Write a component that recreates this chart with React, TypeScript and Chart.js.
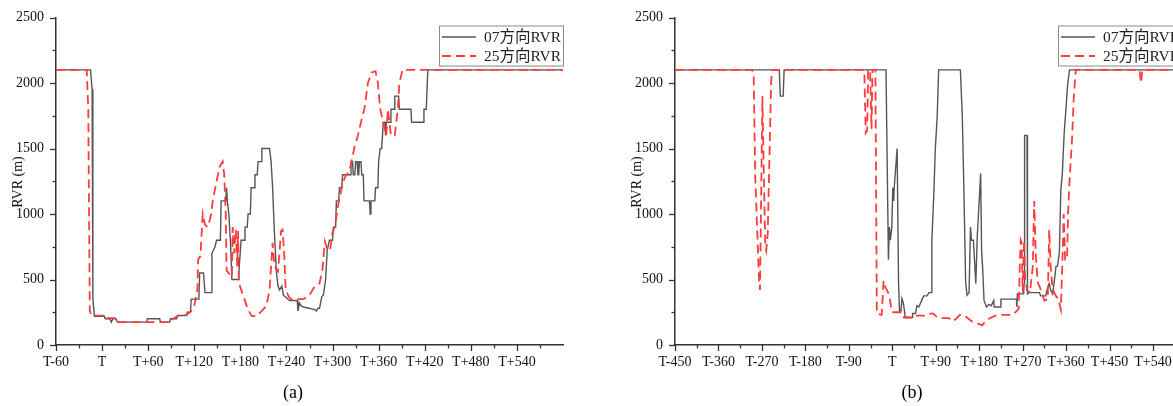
import React, { useEffect, useRef } from 'react';
import { Chart, registerables } from 'chart.js';

Chart.register(...registerables);

const seriesNames = ['07方向RVR', '25方向RVR'];
const captionA = '(a)';
const captionB = '(b)';
const yTitle = 'RVR (m)';

// panel (a): [minutes relative to T, RVR in m]
const a07: [number, number][] = [
  [-60, 2100], [-15, 2100], [-13, 1950], [-12, 350], [-10, 220], [3, 220], [4, 200], [10, 200], [12, 175], [14, 200],
  [18, 200], [20, 175], [58, 175], [59, 200], [75, 200], [76, 175], [88, 175], [89, 200], [97, 200], [98, 225],
  [110, 225], [111, 250], [115, 250], [116, 350], [126, 350], [127, 550], [132, 550], [134, 400], [142, 400], [143, 700],
  [147, 750], [149, 800], [154, 800], [155, 1100], [161, 1100], [162, 1200], [163, 1100], [165, 1000], [167, 800], [169, 500],
  [177, 500], [178, 550], [181, 800], [185, 800], [186, 900], [189, 900], [190, 1000], [193, 1000], [194, 1200], [198, 1200],
  [199, 1300], [202, 1300], [203, 1400], [207, 1400], [208, 1500], [218, 1500], [220, 1400], [222, 1200], [224, 900], [227, 550],
  [229, 450], [231, 420], [234, 450], [236, 380], [240, 360], [244, 340], [254, 340], [255, 260], [257, 320], [259, 300],
  [262, 290], [277, 270], [279, 260], [281, 280], [283, 280], [286, 370], [288, 380], [291, 500], [293, 720], [296, 800],
  [300, 800], [301, 900], [304, 900], [305, 1100], [308, 1100], [309, 1200], [312, 1200], [313, 1300], [323, 1300], [324, 1400],
  [326, 1400], [327, 1300], [329, 1300], [330, 1400], [332, 1400], [333, 1300], [334, 1300], [335, 1400], [337, 1400], [338, 1300],
  [340, 1300], [341, 1100], [348, 1100], [349, 1000], [350, 1100], [355, 1100], [356, 1200], [359, 1200], [360, 1400], [362, 1500],
  [364, 1500], [366, 1700], [368, 1700], [369, 1600], [370, 1700], [375, 1700], [376, 1800], [380, 1800], [381, 1900], [386, 1900],
  [387, 1800], [402, 1800], [403, 1700], [418, 1700], [419, 1800], [422, 1800], [424, 2100], [600, 2100],
];

const a25: [number, number][] = [
  [-60, 2100], [-20, 2100], [-18, 1800], [-16, 260], [-14, 225], [2, 225], [3, 205], [19, 205], [20, 175], [90, 175],
  [92, 200], [100, 225], [110, 230], [116, 260], [120, 300], [124, 420], [125, 650], [128, 680], [131, 1000], [134, 920],
  [137, 900], [140, 950], [142, 1000], [144, 1100], [149, 1250], [153, 1360], [157, 1400], [159, 1300], [161, 1000], [162, 570],
  [166, 540], [169, 520], [170, 900], [172, 700], [174, 880], [176, 600], [177, 870], [178, 480], [180, 440], [190, 270],
  [195, 220], [201, 220], [208, 260], [214, 300], [218, 420], [222, 780], [224, 620], [227, 570], [229, 560], [233, 870],
  [235, 880], [237, 700], [239, 420], [243, 370], [246, 350], [262, 350], [270, 380], [276, 440], [283, 470], [287, 580],
  [290, 790], [294, 720], [297, 730], [300, 860], [303, 900], [307, 1060], [312, 1200], [316, 1280], [322, 1330], [329, 1520],
  [333, 1600], [337, 1700], [342, 1820], [346, 2000], [351, 2080], [356, 2090], [359, 2000], [362, 1800], [364, 1750], [368, 1650],
  [370, 1600], [372, 1800], [374, 1700], [376, 1600], [381, 1600], [385, 1800], [387, 2000], [391, 2100], [600, 2100],
];

// panel (b)
const b07: [number, number][] = [
  [-450, 2100], [-234, 2100], [-232, 1900], [-226, 1900], [-224, 2100], [-13, 2100], [-8, 650], [-6, 900], [-4, 800], [-1, 900],
  [1, 1200], [3, 1100], [4, 1200], [10, 1500], [13, 470], [15, 260], [18, 260], [20, 356], [23, 320], [27, 210],
  [41, 210], [42, 240], [48, 240], [51, 300], [55, 290], [62, 350], [65, 375], [72, 375], [76, 400], [81, 400],
  [82, 800], [86, 1150], [89, 1490], [93, 1745], [96, 2100], [141, 2100], [145, 1750], [148, 1235], [152, 470], [155, 380],
  [159, 400], [162, 900], [164, 800], [168, 800], [173, 470], [176, 830], [180, 1100], [183, 1310], [185, 720], [187, 600],
  [190, 340], [195, 290], [200, 310], [205, 300], [210, 340], [211, 290], [224, 290], [225, 350], [257, 350], [258, 290],
  [259, 390], [272, 390], [273, 470], [274, 1600], [279, 1600], [280, 390], [283, 400], [305, 400], [307, 375], [318, 375],
  [321, 430], [325, 470], [328, 420], [332, 390], [335, 470], [339, 600], [342, 600], [346, 700], [349, 1180], [352, 1300],
  [356, 1620], [360, 1820], [363, 1980], [367, 2100], [600, 2100],
];

const b25: [number, number][] = [
  [-450, 2100], [-290, 2100], [-287, 2050], [-284, 1300], [-276, 500], [-274, 420], [-272, 1000], [-269, 1900], [-266, 1300], [-263, 750],
  [-261, 720], [-258, 850], [-254, 1500], [-251, 2000], [-249, 2100], [-58, 2100], [-55, 1620], [-52, 1640], [-50, 2100], [-46, 2100],
  [-43, 1650], [-41, 2100], [-35, 2100], [-32, 240], [-22, 230], [-18, 490], [-14, 440], [-10, 410], [-6, 380], [-3, 300],
  [0, 250], [20, 250], [24, 210], [44, 210], [48, 225], [68, 225], [74, 240], [85, 240], [92, 215], [100, 205],
  [117, 205], [125, 180], [132, 200], [140, 230], [148, 230], [158, 200], [165, 180], [172, 170], [180, 160], [186, 150],
  [195, 190], [205, 210], [218, 230], [235, 230], [249, 230], [258, 260], [262, 280], [264, 600], [266, 800], [268, 780],
  [270, 400], [273, 800], [275, 520], [279, 420], [285, 400], [291, 600], [294, 1100], [297, 700], [301, 480], [308, 420],
  [315, 340], [322, 350], [325, 880], [328, 600], [332, 430], [338, 380], [344, 350], [349, 270], [352, 600], [355, 1000],
  [358, 650], [362, 650], [364, 1000], [367, 1250], [372, 1550], [376, 1900], [380, 2100], [512, 2100], [515, 2000], [518, 2100],
  [600, 2100],
];

const yTickValues = [0, 250, 500, 750, 1000, 1250, 1500, 1750, 2000, 2250, 2500];
const yLabelValues = [0, 500, 1000, 1500, 2000, 2500];

const SERIF = "'Liberation Serif', 'Noto Sans CJK SC', serif";
const LEGEND_FONT = "15.5px 'Liberation Serif', 'Noto Sans CJK SC', serif";
const YTITLE_FONT = "14px 'Liberation Serif', 'Noto Sans CJK SC', serif";
const CAPTION_FONT = "18px 'Liberation Serif', serif";

const tickMarks = {
  id: 'tickMarks',
  afterDraw(chart: any) {
    const ctx = chart.ctx;
    ctx.save();
    ctx.strokeStyle = '#333';
    ctx.lineWidth = 1.3;
    const xs = chart.scales.x;
    xs.ticks.forEach((t: any) => {
      const px = Math.round(xs.getPixelForValue(t.value)) + 0.5;
      const len = t.label !== '' ? 6 : 3.5;
      ctx.beginPath();
      ctx.moveTo(px, xs.top);
      ctx.lineTo(px, xs.top + len);
      ctx.stroke();
    });
    const ys = chart.scales.y;
    ys.ticks.forEach((t: any) => {
      const py = Math.round(ys.getPixelForValue(t.value)) + 0.5;
      const len = t.label !== '' ? 6 : 3.5;
      ctx.beginPath();
      ctx.moveTo(ys.right - len, py);
      ctx.lineTo(ys.right, py);
      ctx.stroke();
    });
    ctx.restore();
  },
};

// draws the y-axis title and the panel caption
const panelTexts = {
  id: 'panelTexts',
  afterDraw(chart: any, _args: any, opts: any) {
    const ctx = chart.ctx;
    ctx.save();
    ctx.fillStyle = '#111';
    ctx.font = YTITLE_FONT;
    ctx.textAlign = 'center';
    ctx.textBaseline = 'middle';
    ctx.translate(18, 182);
    ctx.rotate(-Math.PI / 2);
    ctx.fillText(opts.yTitle, 0, 0);
    ctx.restore();
    ctx.save();
    ctx.fillStyle = '#000';
    ctx.font = CAPTION_FONT;
    ctx.textAlign = 'center';
    ctx.textBaseline = 'middle';
    ctx.fillText(opts.caption, chart.width / 2, 393);
    ctx.restore();
  },
};

const boxLegend = {
  id: 'boxLegend',
  afterDatasetsDraw(chart: any) {
    const { ctx, chartArea } = chart;
    const w = 124;
    const h = 40;
    const x = chartArea.right - w;
    const y = chartArea.top + 8;
    ctx.save();
    ctx.fillStyle = '#fff';
    ctx.fillRect(x, y, w, h);
    ctx.strokeStyle = '#8a8a8a';
    ctx.lineWidth = 1;
    ctx.strokeRect(x + 0.5, y + 0.5, w, h);
    chart.data.datasets.forEach((ds: any, i: number) => {
      const cy = y + 11.5 + i * 19;
      ctx.strokeStyle = ds.borderColor;
      ctx.lineWidth = ds.borderWidth;
      ctx.setLineDash(ds.borderDash || []);
      ctx.beginPath();
      ctx.moveTo(x + 3, cy);
      ctx.lineTo(x + 37, cy);
      ctx.stroke();
      ctx.setLineDash([]);
      ctx.fillStyle = '#222';
      ctx.font = LEGEND_FONT;
      ctx.textBaseline = 'middle';
      ctx.textAlign = 'left';
      ctx.fillText(ds.label, x + 45, cy + 1);
    });
    ctx.restore();
  },
};

function fmtT(v: number) {
  if (v === 0) return 'T';
  return v < 0 ? 'T' + v : 'T+' + v;
}

type PanelProps = {
  s07: [number, number][];
  s25: [number, number][];
  xMin: number;
  xMax: number;
  minorStep: number;
  labelStep: number;
  caption: string;
};

function Panel({ s07, s25, xMin, xMax, minorStep, labelStep, caption }: PanelProps) {
  const ref = useRef<HTMLCanvasElement | null>(null);
  useEffect(() => {
    if (!ref.current) return;
    const chart = new Chart(ref.current, {
      type: 'line',
      data: {
        datasets: [
          {
            label: seriesNames[0],
            data: s07.map(([x, y]) => ({ x, y })),
            borderColor: '#555555',
            borderWidth: 1.4,
            pointRadius: 0,
            tension: 0,
            order: 1,
          },
          {
            label: seriesNames[1],
            data: s25.map(([x, y]) => ({ x, y })),
            borderColor: '#ff3b3b',
            borderWidth: 1.8,
            borderDash: [9, 5],
            pointRadius: 0,
            tension: 0,
            order: 0,
          },
        ],
      },
      options: {
        animation: false,
        responsive: false,
        devicePixelRatio: 1,
        layout: { padding: { left: 0, right: 23, top: 17.5, bottom: 0 } },
        plugins: {
          legend: { display: false },
          tooltip: { enabled: false },
          title: { display: false },
          panelTexts: { yTitle, caption },
        },
        scales: {
          x: {
            type: 'linear',
            min: xMin,
            max: xMax,
            afterBuildTicks: (scale: any) => {
              const t = [];
              for (let v = xMin; v < xMax; v += minorStep) t.push({ value: v });
              scale.ticks = t;
            },
            afterFit: (scale: any) => {
              scale.height = 61;
            },
            ticks: {
              autoSkip: false,
              maxRotation: 0,
              minRotation: 0,
              padding: 3,
              color: '#111',
              font: { family: SERIF, size: 14 },
              callback: (v: any) => ((v - xMin) % labelStep === 0 ? fmtT(v) : ''),
            },
            grid: { drawOnChartArea: false, drawTicks: true, tickLength: 6, color: 'rgba(0,0,0,0)' },
            border: { display: true, color: '#333', width: 1.5 },
          },
          y: {
            type: 'linear',
            min: 0,
            max: 2500,
            afterBuildTicks: (scale: any) => {
              scale.ticks = yTickValues.map((v) => ({ value: v }));
            },
            afterFit: (scale: any) => {
              scale.width = 56;
            },
            ticks: {
              autoSkip: false,
              padding: 6,
              color: '#111',
              font: { family: SERIF, size: 14 },
              callback: (v: any) => (yLabelValues.includes(v) ? String(v) : ''),
            },
            grid: { drawOnChartArea: false, drawTicks: true, tickLength: 6, color: 'rgba(0,0,0,0)' },
            border: { display: true, color: '#333', width: 1.5 },
          },
        },
      },
      plugins: [tickMarks, boxLegend, panelTexts],
    } as any);
    return () => chart.destroy();
  }, []);
  return <canvas ref={ref} width={586} height={406} style={{ display: 'block' }} />;
}

export default function App() {
  return (
    <div
      style={{
        position: 'fixed',
        left: 0,
        top: 0,
        width: 1173,
        height: 406,
        overflow: 'hidden',
        background: '#fff',
      }}
    >
      <div style={{ position: 'absolute', left: 0, top: 0, width: 586, height: 406 }}>
        <Panel s07={a07} s25={a25} xMin={-60} xMax={600} minorStep={30} labelStep={60} caption={captionA} />
      </div>
      <div style={{ position: 'absolute', left: 619, top: 0, width: 586, height: 406 }}>
        <Panel s07={b07} s25={b25} xMin={-450} xMax={600} minorStep={45} labelStep={90} caption={captionB} />
      </div>
    </div>
  );
}
